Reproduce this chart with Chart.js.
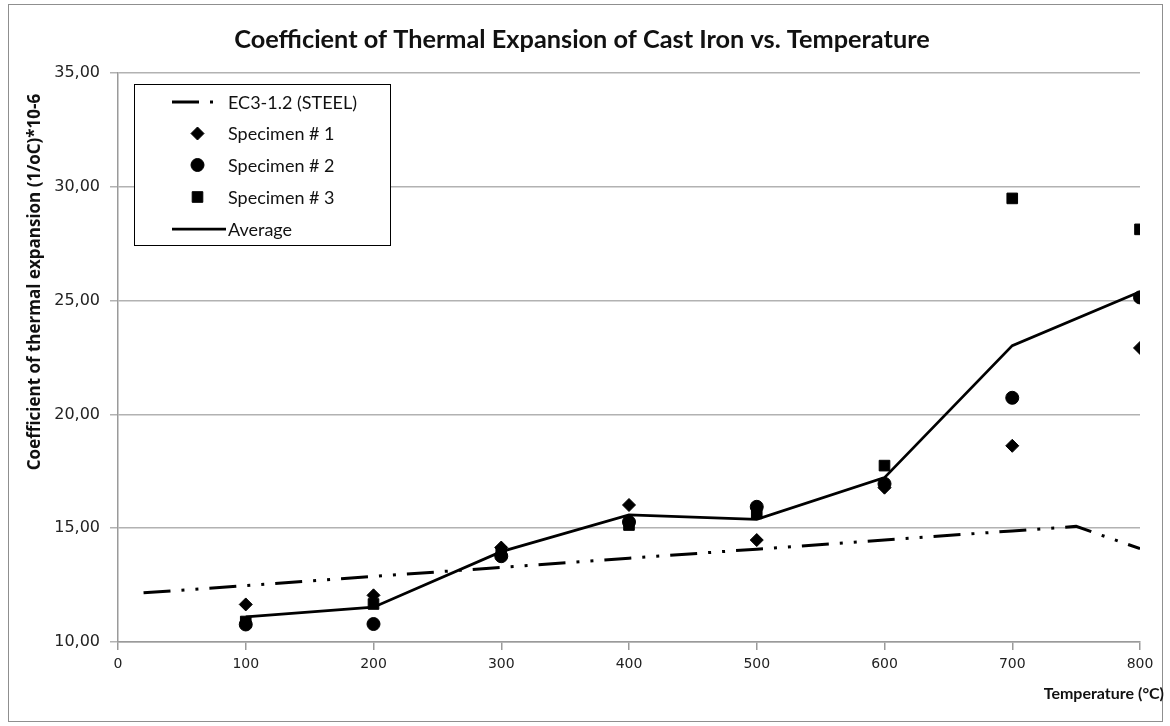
<!DOCTYPE html>
<html>
<head>
<meta charset="utf-8">
<script src="https://cdn.jsdelivr.net/npm/chart.js@4.4.0/dist/chart.umd.min.js"></script>
<style>
  html, body { margin: 0; padding: 0; background: #ffffff; }
  #wrap { width: 1170px; height: 726px; position: relative; }
</style>
</head>
<body>
<div id="wrap"><canvas id="chart" width="1170" height="726"></canvas></div>
<script>
// Measured thermal expansion coefficients, (1/°C)·10^-6
const temperatures = [100, 200, 300, 400, 500, 600, 700, 800];
const specimen1 = [11.65, 12.05, 14.15, 16.02, 14.48, 16.78, 18.62, 22.92];
const specimen2 = [10.77, 10.79, 13.77, 15.27, 15.94, 16.95, 20.73, 25.14];
const specimen3 = [10.90, 11.67, 13.95, 15.14, 15.65, 17.75, 29.49, 28.13];
const average   = [11.10, 11.53, 13.97, 15.58, 15.39, 17.22, 23.02, 25.39];

// EC3-1.2 reference curve for steel
const steelTemperatures = [20, 100, 200, 300, 400, 500, 600, 700, 750, 800];
const steelAlpha = [12.16, 12.48, 12.88, 13.28, 13.68, 14.08, 14.48, 14.88, 15.08, 14.10];

const seriesLabels = ['EC3-1.2 (STEEL)', 'Specimen # 1', 'Specimen # 2', 'Specimen # 3', 'Average'];
const chartTitle = 'Coefficient of Thermal Expansion of Cast Iron vs. Temperature';
const yAxisTitle = 'Coefficient of thermal expansion (1/oC)*10-6';
const xAxisTitle = 'Temperature (\u00B0C)';

const xRange = { min: 0, max: 800, step: 100 };
const yRange = { min: 10, max: 35, step: 5 };

function toPoints(xs, ys) {
  return xs.map((x, i) => ({ x: x, y: ys[i] }));
}

const GRID = '#b2b2b2';
const AXIS = '#9a9a9a';

// White page with a thin grey frame round the chart
const framePlugin = {
  id: 'frame',
  beforeDraw(chart) {
    const ctx = chart.ctx;
    ctx.save();
    ctx.fillStyle = '#ffffff';
    ctx.fillRect(0, 0, chart.width, chart.height);
    ctx.strokeStyle = '#8f8f8f';
    ctx.lineWidth = 1;
    ctx.strokeRect(8.5, 4.5, 1154, 717);
    ctx.restore();
  }
};

// Chart title and axis titles placed where the layout puts them
const titlesPlugin = {
  id: 'titles',
  afterDraw(chart) {
    const ctx = chart.ctx;
    ctx.save();
    ctx.fillStyle = '#111111';
    ctx.textBaseline = 'middle';
    ctx.textAlign = 'center';
    ctx.font = 'bold 25.3px Lato';
    ctx.fillText(chartTitle, 582, 40);
    ctx.textAlign = 'right';
    ctx.font = 'bold 16px Lato';
    ctx.fillText(xAxisTitle, 1164, 694);
    ctx.translate(35, 282);
    ctx.rotate(-Math.PI / 2);
    ctx.textAlign = 'center';
    ctx.font = 'bold 17px "Open Sans"';
    ctx.fillText(yAxisTitle, 0, 0);
    ctx.restore();
  }
};

// Boxed legend inside the plot area
const boxLegendPlugin = {
  id: 'boxLegend',
  afterDraw(chart) {
    const ctx = chart.ctx;
    const box = { x: 134.5, y: 84.5, w: 256, h: 161 };
    ctx.save();
    ctx.fillStyle = '#ffffff';
    ctx.fillRect(box.x, box.y, box.w, box.h);
    ctx.strokeStyle = '#000000';
    ctx.lineWidth = 1;
    ctx.strokeRect(box.x, box.y, box.w, box.h);
    const rowY = [102, 133.5, 165, 197, 229];
    const sampleStart = 172, markerX = 197.5, textX = 228;
    chart.data.datasets.forEach((ds, i) => {
      const y = rowY[i];
      if (ds.showLine) {
        ctx.save();
        ctx.strokeStyle = ds.borderColor;
        ctx.lineWidth = ds.borderWidth;
        ctx.setLineDash(ds.borderDash || []);
        ctx.beginPath();
        ctx.moveTo(sampleStart, y);
        ctx.lineTo(ds.borderDash && ds.borderDash.length ? 214 : 226, y);
        ctx.stroke();
        ctx.restore();
      } else {
        ctx.fillStyle = ds.backgroundColor;
        ctx.strokeStyle = ds.borderColor;
        ctx.lineWidth = 1;
        Chart.helpers.drawPoint(ctx, {
          pointStyle: ds.pointStyle, radius: ds.pointRadius, rotation: 0, borderWidth: 1
        }, markerX, y);
      }
      ctx.fillStyle = '#111111';
      ctx.font = '18px Lato';
      ctx.textAlign = 'left';
      ctx.textBaseline = 'middle';
      ctx.fillText(ds.label, textX, y + 1);
    });
    ctx.restore();
  }
};

const markerSeries = [
  { label: seriesLabels[1], values: specimen1, style: 'rectRot', radius: 6.5 },
  { label: seriesLabels[2], values: specimen2, style: 'circle', radius: 6.5 },
  { label: seriesLabels[3], values: specimen3, style: 'rect', radius: 7.5 }
];

const datasets = [
  {
    label: seriesLabels[0],
    data: toPoints(steelTemperatures, steelAlpha),
    showLine: true,
    borderColor: '#000000',
    backgroundColor: '#000000',
    borderWidth: 3,
    borderDash: [27, 11, 3, 11, 3, 11],
    pointRadius: 0,
    tension: 0
  }
].concat(markerSeries.map(s => ({
  label: s.label,
  data: toPoints(temperatures, s.values),
  showLine: false,
  pointStyle: s.style,
  pointRadius: s.radius,
  pointBackgroundColor: '#000000',
  pointBorderColor: '#000000',
  backgroundColor: '#000000',
  borderColor: '#000000',
  pointBorderWidth: 1
}))).concat([
  {
    label: seriesLabels[4],
    data: toPoints(temperatures, average),
    showLine: true,
    borderColor: '#000000',
    backgroundColor: '#000000',
    borderWidth: 2.75,
    pointRadius: 0,
    tension: 0
  }
]);

new Chart(document.getElementById('chart'), {
  type: 'scatter',
  data: { datasets: datasets },
  options: {
    responsive: false,
    animation: false,
    layout: { padding: { top: 73, right: 30, bottom: 0, left: 0 } },
    plugins: {
      legend: { display: false },
      tooltip: { enabled: false },
      title: { display: false }
    },
    scales: {
      x: {
        type: 'linear',
        min: xRange.min,
        max: xRange.max,
        afterFit(scale) { scale.height = 84; },
        ticks: {
          stepSize: xRange.step,
          color: '#222222',
          font: { family: 'DejaVu Sans', size: 14 },
          padding: 6,
          maxRotation: 0
        },
        grid: { drawOnChartArea: false, drawTicks: true, tickLength: 8, color: AXIS, lineWidth: 1.5 },
        border: { display: true, color: AXIS, width: 1.5 }
      },
      y: {
        type: 'linear',
        min: yRange.min,
        max: yRange.max,
        afterFit(scale) { scale.width = 118; },
        ticks: {
          stepSize: yRange.step,
          color: '#222222',
          font: { family: 'DejaVu Sans', size: 16 },
          padding: 10,
          callback: v => v.toFixed(2).replace('.', ',')
        },
        grid: { drawOnChartArea: true, drawTicks: true, tickLength: 8, color: GRID, lineWidth: 1.5 },
        border: { display: true, color: AXIS, width: 1.5 }
      }
    }
  },
  plugins: [framePlugin, titlesPlugin, boxLegendPlugin]
});
</script>
</body>
</html>
